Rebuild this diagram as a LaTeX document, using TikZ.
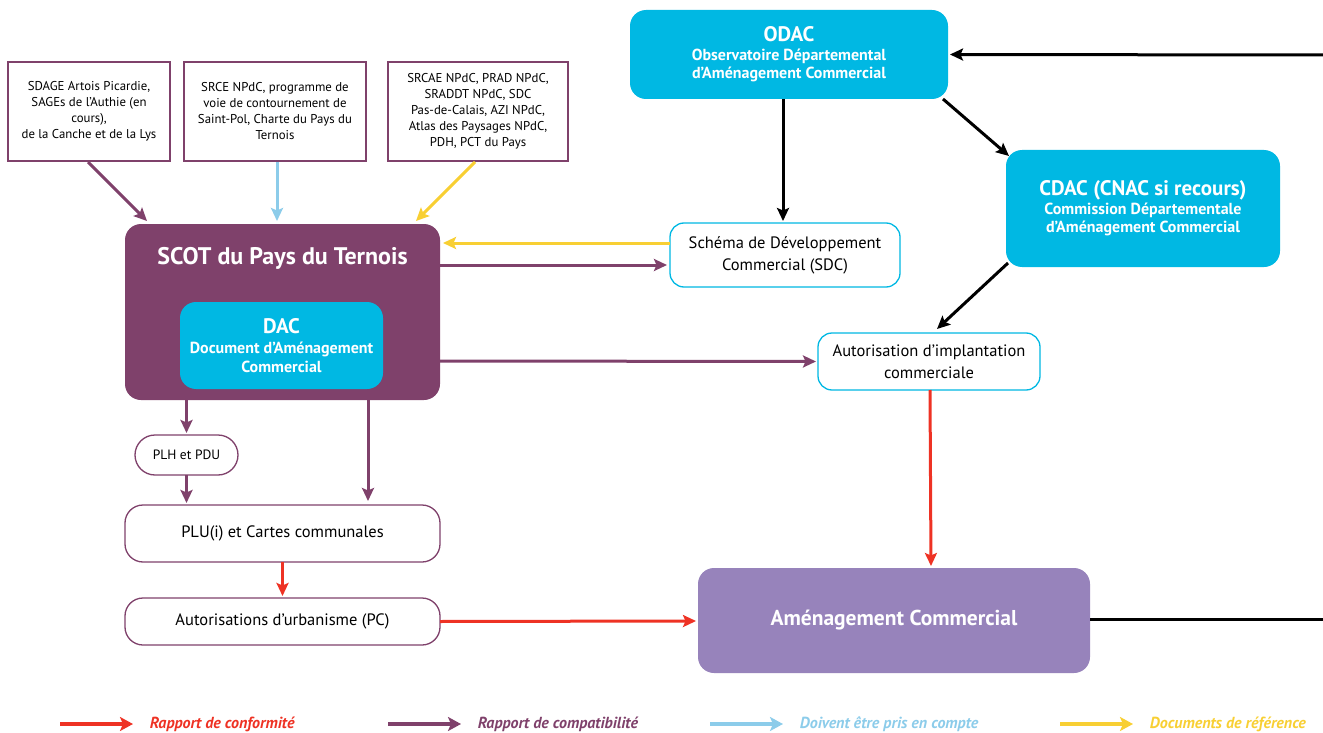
\documentclass[tikz,border=0pt]{standalone}
\usepackage{fontspec}
\setmainfont{PT Sans}
\usetikzlibrary{arrows.meta,calc}
\definecolor{cpurple}{HTML}{7F416B}
\definecolor{ccyan}{HTML}{00B8E3}
\definecolor{clav}{HTML}{9783BB}
\definecolor{cred}{HTML}{EE3224}
\definecolor{cblue}{HTML}{8CCCEA}
\definecolor{cyellow}{HTML}{F8CF33}
\newcommand{\titf}{\fontsize{21}{24}\selectfont}
\tikzset{
  srcbox/.style={draw=cpurple, line width=1.3pt, fill=white, inner sep=0pt, outer sep=0pt, align=center, font=\fontsize{12.8}{16}\selectfont, minimum height=99pt},
  bigbox/.style={rounded corners=16pt, inner sep=0pt, outer sep=0pt, align=center, text=white},
  cyanbox/.style={bigbox, fill=ccyan, font=\fontsize{16}{18.5}\selectfont\bfseries},
  whitebox/.style={draw=ccyan, line width=1.3pt, fill=white, rounded corners=14pt, inner sep=0pt, outer sep=0pt, align=center, font=\fontsize{16.5}{22}\selectfont},
  pbox/.style={draw=cpurple, line width=1.3pt, fill=white, rounded corners=18pt, inner sep=0pt, outer sep=0pt, align=center, font=\fontsize{16.5}{20}\selectfont},
  arr/.style={line width=3pt, -{Stealth[length=13pt,width=12pt,inset=2.5pt]}},
  parr/.style={arr, draw=cpurple},
  rarr/.style={arr, draw=cred},
  barr/.style={arr, draw=cblue},
  yarr/.style={arr, draw=cyellow},
  karr/.style={arr, draw=black},
  legarr/.style={line width=3.8pt, -{Stealth[length=13pt,width=14pt,inset=3pt]}},
  legtext/.style={anchor=west, font=\fontsize{16}{18}\selectfont\bfseries\itshape, inner sep=0pt},
}
\begin{document}
\begin{tikzpicture}[x=1pt,y=-1pt]
\useasboundingbox (0,0) rectangle (1323,733);
% top source boxes
\node[srcbox, minimum width=162pt] (b1) at (89,111.5) {SDAGE Artois Picardie,\\SAGEs de l’Authie (en\\cours),\\de la Canche et de la Lys};
\node[srcbox, minimum width=182pt] (b2) at (275,111.5) {SRCE NPdC, programme de\\voie de contournement de\\Saint-Pol, Charte du Pays du\\Ternois};
\node[srcbox, minimum width=180pt] (b3) at (478,111.5) {SRCAE NPdC, PRAD NPdC,\\SRADDT NPdC, SDC\\Pas-de-Calais, AZI NPdC,\\Atlas des Paysages NPdC,\\PDH, PCT du Pays};
% SCOT
\node[bigbox, fill=cpurple, minimum width=315pt, minimum height=176pt] (scot) at (282.5,312) {};
\node[text=white, font=\fontsize{24}{28}\selectfont\bfseries, inner sep=0pt] (scottitle) at (282.5,258) {SCOT du Pays du Ternois};
\node[cyanbox, minimum width=203pt, minimum height=87pt] (dac) at (281.5,345.5) {{\titf DAC}\\[2pt]Document d’Aménagement\\Commercial};
% ODAC, CDAC
\node[cyanbox, minimum width=318pt, minimum height=89pt] (odac) at (789,54.5) {{\titf ODAC}\\Observatoire Départemental\\d’Aménagement Commercial};
\node[cyanbox, minimum width=274pt, minimum height=117pt] (cdac) at (1143,208.5) {{\titf CDAC (CNAC si recours)}\\Commission Départementale\\d’Aménagement Commercial};
% white boxes
\node[whitebox, minimum width=230pt, minimum height=64pt] (sdc) at (785,255) {Schéma de Développement\\Commercial (SDC)};
\node[whitebox, minimum width=222pt, minimum height=57pt] (aic) at (929,361.5) {Autorisation d’implantation\\commerciale};
% lower left
\node[pbox, rounded corners=20pt, minimum width=103pt, minimum height=40pt, font=\fontsize{13.5}{16}\selectfont] (plh) at (186.5,455) {PLH et PDU};
\node[pbox, minimum width=315pt, minimum height=57pt] (plu) at (282.5,533.5) {PLU(i) et Cartes communales};
\node[pbox, minimum width=315pt, minimum height=47pt] (au) at (282.5,621.5) {Autorisations d’urbanisme (PC)};
% Amenagement
\node[bigbox, fill=clav, minimum width=392pt, minimum height=105pt, font=\fontsize{21.5}{25}\selectfont\bfseries] (am) at (894,620.5) {Aménagement Commercial};
% edge coordinates
\coordinate (rtop) at (1323,55);
\coordinate (rbot) at (1323,619);
% arrows into SCOT from sources
\draw[parr] ($(b1.south)+(-1,1)$) -- ($(scot.north west)+(22,-3)$);
\draw[barr] ($(b2.south)+(2,1)$) -- ($(b2.south |- scot.north)+(2,-3)$);
\draw[yarr] ($(b3.south)+(-3,1)$) -- ($(scot.north east)+(-24,-3)$);
% SDC <-> SCOT
\draw[yarr] ($(sdc.west)+(0,-12)$) -- ($(scot.east)+(3,-69)$);
\draw[parr] ($(scot.east)+(0,-47)$) -- ($(sdc.west)+(-3,10)$);
\draw[parr] ($(scot.east)+(0,49)$) -- ($(aic.west)+(-2,0)$);
% black arrows
\draw[karr] ($(odac.south)+(-6,0)$) -- ($(sdc.north)+(-2,-2)$);
\draw[karr] ($(odac.south east)+(-5,0)$) -- ($(cdac.north west)+(3,6)$);
\draw[karr] ($(cdac.south west)+(2,-4)$) -- ($(aic.north)+(8,-4)$);
\draw[karr] (rtop) -- ($(odac.east)+(2,0)$);
\draw[line width=3pt] ($(am.east)+(0,-1.5)$) -- (rbot);
% red arrows
\draw[rarr] ($(aic.south)+(1,0)$) -- ($(am.north)+(37,-2)$);
\draw[rarr] (au.east) -- ($(am.west)+(-2,0.5)$);
\draw[rarr] (plu.south) -- ($(au.north)+(0,-2)$);
% purple arrows down
\draw[parr] (plh.north |- scot.south) -- ($(plh.north)+(0,-2)$);
\draw[parr] (plh.south) -- ($(plh.south |- plu.north)+(0,-2)$);
\draw[parr] ($(scot.south)+(85.5,0)$) -- ($(plu.north)+(85.5,-4)$);
% legend
\coordinate (l1) at (60,724);
\coordinate (l2) at (388,724);
\coordinate (l3) at (710,724);
\coordinate (l4) at (1060,724);
\draw[legarr, draw=cred] (l1) -- ++(73,0) node[legtext, text=cred, xshift=15pt] (t1) {Rapport de conformité};
\draw[legarr, draw=cpurple] (l2) -- ++(73,0) node[legtext, text=cpurple, xshift=15pt] (t2) {Rapport de compatibilité};
\draw[legarr, draw=cblue] (l3) -- ++(73,0) node[legtext, text=cblue, xshift=15pt] (t3) {Doivent être pris en compte};
\draw[legarr, draw=cyellow] (l4) -- ++(73,0) node[legtext, text=cyellow, xshift=15pt] (t4) {Documents de référence};
\end{tikzpicture}
\end{document}
